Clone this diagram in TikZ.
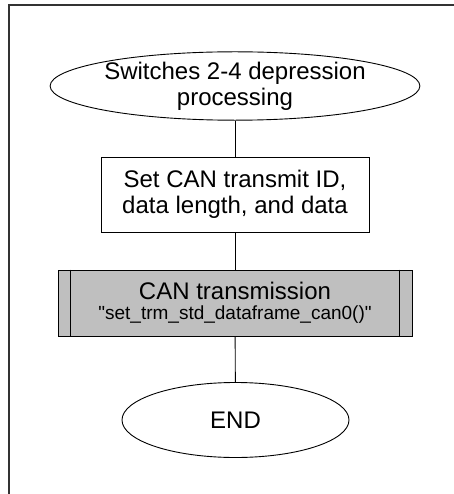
\documentclass[tikz,border=0pt]{standalone}
\usepackage{fontspec}
\setmainfont{Liberation Sans}
\usetikzlibrary{shapes.geometric}
\definecolor{boxgray}{RGB}{191,191,191}
\begin{document}
\begin{tikzpicture}[x=1bp,y=-1bp,
  term/.style={draw,ellipse,line width=0.9bp,inner sep=0pt,align=center,font=\fontsize{24bp}{26bp}\selectfont},
  procbox/.style={draw,rectangle,line width=0.9bp,inner sep=0pt,align=center,font=\fontsize{24bp}{26bp}\selectfont},
  subbox/.style={draw,rectangle,line width=0.9bp,inner sep=0pt,align=center,fill=boxgray},
  conn/.style={line width=0.9bp}]
\useasboundingbox (0,0) rectangle (454,494);
\fill[white] (0,0) rectangle (454,494);
\draw[line width=1.3bp,black!80] (9,500) -- (9,5) -- (460,5);
\node[term,minimum width=300bp,minimum height=66bp] (start) at (235,86) {Switches 2-4 depression\\processing};
\node[procbox,minimum width=268bp,minimum height=75bp] (set) at (235,194.5) {Set CAN transmit ID,\\data length, and data};
\node[subbox,minimum width=354bp,minimum height=66bp] (can) at (235,303) {\begin{tabular}{@{}c@{}}\fontsize{24bp}{26bp}\selectfont CAN transmission\\[3bp]\fontsize{19bp}{21bp}\selectfont \textquotedbl set\_trm\_std\_dataframe\_can0()\textquotedbl\end{tabular}};
\draw[conn] ([xshift=13bp]can.north west) -- ([xshift=13bp]can.south west);
\draw[conn] ([xshift=-13bp]can.north east) -- ([xshift=-13bp]can.south east);
\node[term,minimum width=227bp,minimum height=75bp] (end) at (235.5,420) {END};
\draw[conn] (start) -- (set);
\draw[conn] (set) -- (can);
\draw[conn] (can) -- (end);
\end{tikzpicture}
\end{document}
